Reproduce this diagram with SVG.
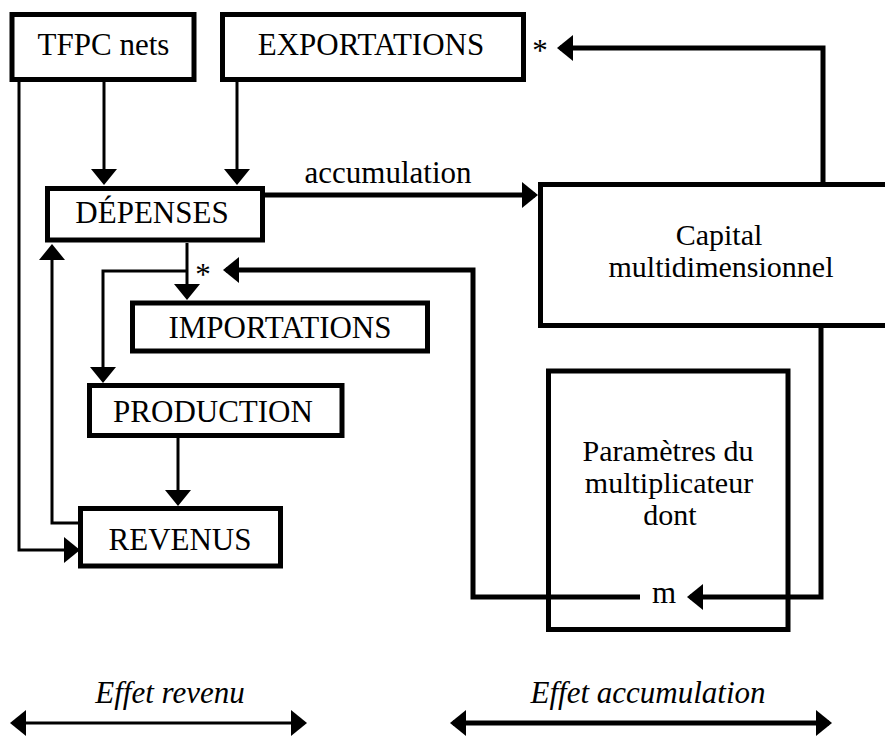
<svg xmlns="http://www.w3.org/2000/svg" width="885" height="736" viewBox="0 0 885 736">
<style>
  .box { fill: #fff; stroke: #000; stroke-width: 5; }
  .open { fill: none; stroke: #000; stroke-width: 5; }
  .t { font-family: "Liberation Serif", "Times New Roman", serif; font-size: 31px; fill: #000; text-anchor: middle; }
  .ml { font-size: 30px; }
  .it { font-style: italic; }
  .thin { fill: none; stroke: #000; stroke-width: 3; }
  .thick { fill: none; stroke: #000; stroke-width: 5; }
</style>
<defs>
  <marker id="ah" markerUnits="userSpaceOnUse" viewBox="0 0 16 28" markerWidth="16" markerHeight="28" refX="13" refY="14" orient="auto-start-reverse">
    <path d="M16,14 L0,1 L0,27 Z" fill="#000"/>
  </marker>
</defs>
<rect width="885" height="736" fill="#fff"/>

<g id="connectors">
  <path class="thin" d="M104,81 V182" marker-end="url(#ah)"/>
  <path class="thin" d="M237,81 V182" marker-end="url(#ah)"/>
  <path class="thin" d="M19,81 V550 H77" marker-end="url(#ah)"/>
  <path class="thin" d="M80,523 H52 V247" marker-end="url(#ah)"/>
  <path class="thin" d="M187,243 V297" marker-end="url(#ah)"/>
  <path class="thin" d="M187,271 H103 V380" marker-end="url(#ah)"/>
  <path class="thin" d="M178,438 V503" marker-end="url(#ah)"/>
  <path class="thick" d="M265,195 H535" marker-end="url(#ah)"/>
  <path class="thick" d="M823,184 V48 H560" marker-end="url(#ah)"/>
  <path class="thick" d="M821,328 V597 H690" marker-end="url(#ah)"/>
  <path class="thick" d="M640,597 H473 V270 H226" marker-end="url(#ah)"/>
  <text class="t" x="388" y="183">accumulation</text>
  <text class="t" x="540" y="61">*</text>
  <text class="t" x="203" y="285">*</text>
  <text class="t" x="664" y="603">m</text>
</g>

<g id="tfpc">
  <rect class="box" x="12" y="14.5" width="182" height="65"/>
  <text class="t" x="103.5" y="55">TFPC nets</text>
</g>
<g id="exportations">
  <rect class="box" x="222.5" y="14.5" width="301" height="65"/>
  <text class="t" x="371" y="55">EXPORTATIONS</text>
</g>
<g id="depenses">
  <rect class="box" x="47.5" y="188.5" width="215" height="51.5"/>
  <text class="t" x="152" y="223">DÉPENSES</text>
</g>
<g id="importations">
  <rect class="box" x="132.5" y="303" width="295" height="48"/>
  <text class="t" x="280" y="338">IMPORTATIONS</text>
</g>
<g id="production">
  <rect class="box" x="89.5" y="385.5" width="252.5" height="50"/>
  <text class="t" x="213" y="422">PRODUCTION</text>
</g>
<g id="revenus">
  <rect class="box" x="80.5" y="508.5" width="200" height="57.5"/>
  <text class="t" x="180" y="550">REVENUS</text>
</g>
<g id="capital">
  <rect class="open" x="540.5" y="184.5" width="360" height="141"/>
  <text class="t ml" x="719" y="245">Capital</text>
  <text class="t ml" x="721" y="277">multidimensionnel</text>
</g>
<g id="parametres">
  <rect class="open" x="548.5" y="371" width="239.5" height="258.5"/>
  <text class="t ml" x="668" y="461">Paramètres du</text>
  <text class="t ml" x="669" y="493">multiplicateur</text>
  <text class="t ml" x="670" y="525">dont</text>
</g>

<g id="legend">
  <path class="thin" d="M13,723 H304" marker-start="url(#ah)" marker-end="url(#ah)"/>
  <text class="t it" x="170" y="703">Effet revenu</text>
  <path class="thick" d="M453,723 H829" marker-start="url(#ah)" marker-end="url(#ah)"/>
  <text class="t it" x="648" y="703">Effet accumulation</text>
</g>
</svg>
